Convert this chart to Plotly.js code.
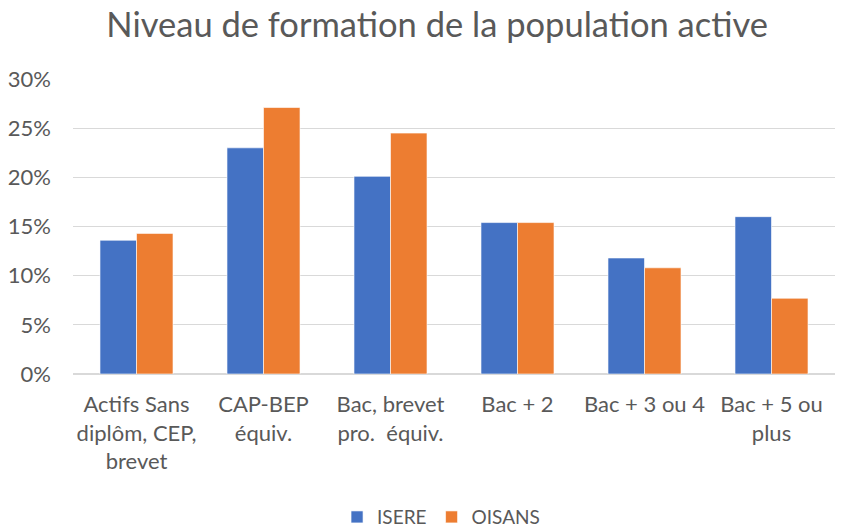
<!DOCTYPE html>
<html>
<head>
<meta charset="utf-8">
<script src="https://cdn.plot.ly/plotly-3.0.1.min.js"></script>
<style>html,body{margin:0;padding:0;background:#fff}#chart{width:844px;height:527px}</style>
</head>
<body>
<div id="chart"></div>
<script>
const categories = [
  "Actifs Sans<br>diplôm, CEP,<br>brevet",
  "CAP-BEP<br>équiv.",
  "Bac, brevet<br>pro.&nbsp; équiv.",
  "Bac + 2",
  "Bac + 3 ou 4",
  "Bac + 5 ou<br>plus"
];
const isere = [13.6, 23.0, 20.1, 15.4, 11.8, 16.0];
const oisans = [14.3, 27.1, 24.5, 15.4, 10.8, 7.7];
const yTicks = [0, 5, 10, 15, 20, 25, 30];
const yTickText = yTicks.map(v => v + "%");

const font = "Lato, 'Open Sans', sans-serif";
const grey = "#595959";

const data = [
  {type: "bar", name: "ISERE", x: categories, y: isere,
   marker: {color: "#4472C4", line: {color: "#ffffff", width: 0.6}}},
  {type: "bar", name: "OISANS", x: categories, y: oisans,
   marker: {color: "#ED7D31", line: {color: "#ffffff", width: 0.6}}}
];

const layout = {
  width: 844, height: 527,
  margin: {l: 73, r: 9, t: 79, b: 153, autoexpand: false},
  paper_bgcolor: "#ffffff", plot_bgcolor: "#ffffff",
  font: {family: font, color: grey},
  title: {text: "Niveau de formation de la population active",
          font: {family: font, size: 34.5, color: grey},
          x: 0.518, xanchor: "center", yref: "container", y: 0.952, yanchor: "middle"},
  barmode: "group", bargap: 0.425, bargroupgap: 0,
  showlegend: true,
  legend: {orientation: "h", x: 0.483, xanchor: "center", xref: "paper",
           yref: "paper", y: -0.485, yanchor: "middle",
           font: {family: font, size: 19, color: grey},
           itemwidth: 30, traceorder: "normal", tracegroupgap: 0},
  xaxis: {tickfont: {family: font, size: 22, color: grey},
          showgrid: false, showline: false, ticks: "", ticklabelstandoff: 15,
          fixedrange: true},
  yaxis: {range: [0, 30], tickmode: "array", tickvals: yTicks, ticktext: yTickText,
          tickfont: {family: font, size: 22, color: grey},
          showgrid: true, gridcolor: "#d9d9d9", gridwidth: 1.3,
          zeroline: true, zerolinecolor: "#d9d9d9", zerolinewidth: 1.3,
          showline: false, ticks: "", ticklabelstandoff: 21, fixedrange: true}
};

Plotly.newPlot("chart", data, layout, {displayModeBar: false, staticPlot: true});
</script>
</body>
</html>
